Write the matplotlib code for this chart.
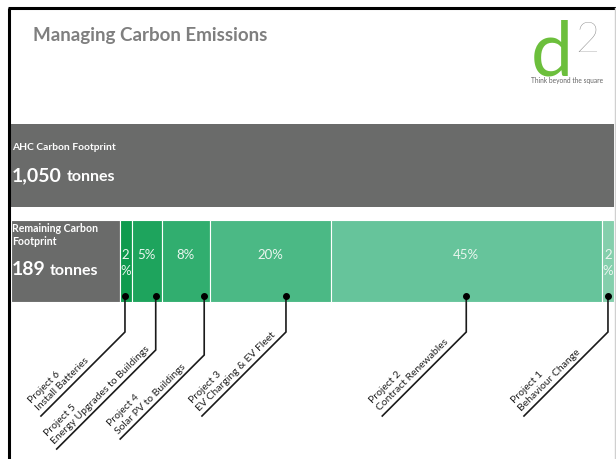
import matplotlib.pyplot as plt
import numpy as np

plt.rcParams['font.family'] = ['Lato', 'DejaVu Sans']

# carbon figures
total_tonnes = 1050
remaining_tonnes = 189
projects = ['Project 6', 'Project 5', 'Project 4', 'Project 3', 'Project 2', 'Project 1']
actions = ['Install Batteries', 'Energy Upgrades to Buildings', 'Solar PV to Buildings',
           'EV Charging & EV Fleet', 'Contract Renewables', 'Behaviour Change']
savings_pct = [2, 5, 8, 20, 45, 2]

seg_colors = ['#0f9b4e', '#1ea45d', '#31ae6f', '#4bb985', '#66c49b', '#84cfac']
dot_frac = [0.45, 0.8, 0.88, 0.63, 0.5, 0.5]   # where the leader starts inside each segment
knee_y = [332, 350, 355, 332, 332, 332]         # where each leader turns diagonal (px)
diag_len = [84, 99, 84, 84, 84, 84]              # diagonal run of each leader (px)

W, H = 616, 459
fig = plt.figure(figsize=(W / 100, H / 100), dpi=100)
ax = fig.add_axes([0, 0, 1, 1])
ax.axis('off')

# x axis in percent of the footprint, y axis in pixels from the top
x0_px, x1_px = 11, 614
ppu = (x1_px - x0_px) / 100.0
ax.set_xlim(-x0_px / ppu, (W - x0_px) / ppu)
ax.set_ylim(H, 0)

def px(x):
    return (x - x0_px) / ppu

grey = '#6a6b6a'

# frame
ax.plot([px(9), px(9)], [8, H], color='black', lw=2.2, solid_capstyle='butt')
ax.plot([px(8), px(W)], [8, 8], color='black', lw=2.2, solid_capstyle='butt')
ax.plot([px(615), px(615)], [8, H], color='#d0d0d0', lw=1)

# header and logo
ax.text(px(33), 36, 'Managing Carbon Emissions', fontsize=13.5, fontweight='bold',
        color='#7f7f7f', va='center', ha='left')
ax.text(px(552), 75, 'd', fontsize=54, fontweight='normal', color='#6cbf3c',
        ha='center', va='baseline')
ax.text(px(587), 52, '2', fontsize=30, fontweight='light', color='#858585',
        ha='center', va='baseline')
ax.text(px(567), 81, 'Think beyond the square', fontsize=4.8, color='#666666',
        ha='center', va='center')

# full footprint bar
ax.barh(165.5, 100, height=83, left=0, color=grey, edgecolor='none')
ax.text(px(12), 147, 'AHC Carbon Footprint', fontsize=7.4, fontweight='bold',
        color='white', va='center')
ax.text(px(12), 181, f'{total_tonnes:,}', fontsize=14, fontweight='bold',
        color='white', va='baseline')
ax.text(px(67), 181, 'tonnes', fontsize=11.5, fontweight='bold',
        color='white', va='baseline')

# remaining footprint plus project savings
remaining_pct = remaining_tonnes / total_tonnes * 100
row_y, row_h = 261, 82
ax.barh(row_y, remaining_pct, height=row_h, left=0, color=grey,
        edgecolor='white', lw=0.8)
ax.text(px(12), 235, 'Remaining Carbon\nFootprint', fontsize=7.6, fontweight='bold',
        color='white', va='center', linespacing=1.25)
ax.text(px(12), 275, f'{remaining_tonnes}', fontsize=14, fontweight='bold',
        color='white', va='baseline')
ax.text(px(50), 275, 'tonnes', fontsize=11.5, fontweight='bold',
        color='white', va='baseline')

lefts = remaining_pct + np.concatenate([[0], np.cumsum(savings_pct)[:-1]])
ax.barh(row_y, savings_pct, height=row_h, left=lefts, color=seg_colors,
        edgecolor='white', lw=0.8)

dot_y = 296
for i, (p, left) in enumerate(zip(savings_pct, lefts)):
    xc = left + p / 2
    if p < 3:
        ax.text(xc, 263, f'{p}\n%', fontsize=9.5, color='#eaf6ef', ha='center',
                va='center', linespacing=1.35)
    else:
        ax.text(xc, 255, f'{p}%', fontsize=9.5, color='#eaf6ef', ha='center',
                va='center')

    # leader line down to the project label
    xd = left + p * dot_frac[i]
    ky = knee_y[i]
    ex = xd - diag_len[i] / ppu
    ey = ky + diag_len[i]
    ax.plot([xd, xd, ex], [dot_y, ky, ey], color='#1a1a1a', lw=1.2,
            solid_joinstyle='miter')
    ax.plot(xd, dot_y, 'o', color='black', ms=4)
    ax.annotate(f'{projects[i]}\n{actions[i]}', xy=(ex, ey), xytext=(-0.5, 2.5),
                textcoords='offset points', rotation=45, rotation_mode='anchor',
                ha='left', va='bottom', fontsize=7.5, color='#222222',
                linespacing=1.2)

fig.savefig('out.png', dpi=100)
